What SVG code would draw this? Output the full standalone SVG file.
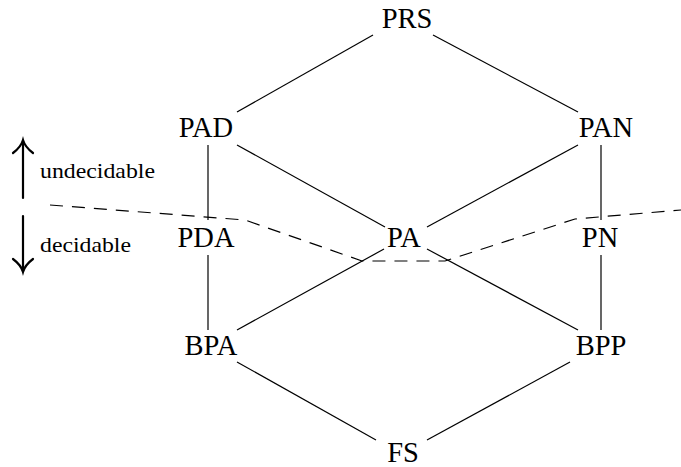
<svg xmlns="http://www.w3.org/2000/svg" width="681" height="467" viewBox="0 0 681 467">
<style>
.e{stroke:#000;stroke-width:1.2;fill:none}
.d{stroke:#000;stroke-width:1.2;fill:none;stroke-dasharray:13,9}
.a{stroke:#000;stroke-width:2.2;fill:none;stroke-linecap:round}
</style>
<rect width="681" height="467" fill="#fff"/>
<g id="connectors">
<line class="e" x1="237" y1="112" x2="373" y2="35"/>
<line class="e" x1="433" y1="35" x2="578" y2="112"/>
<line class="e" x1="208" y1="145" x2="208" y2="220"/>
<line class="e" x1="237" y1="145" x2="385" y2="227"/>
<line class="e" x1="578" y1="145" x2="427" y2="227"/>
<line class="e" x1="601" y1="145" x2="601" y2="220"/>
<line class="e" x1="208" y1="255" x2="208" y2="330"/>
<line class="e" x1="384" y1="249" x2="237" y2="330"/>
<line class="e" x1="427" y1="249" x2="578" y2="330"/>
<line class="e" x1="601" y1="255" x2="601" y2="330"/>
<line class="e" x1="237" y1="362" x2="376" y2="440"/>
<line class="e" x1="570" y1="362" x2="427" y2="440"/>
</g>
<g id="boundary">
<path class="d" d="M50,205 L245,220 L362,261 L445,261 L575,219 L681,210"/>
</g>
<g id="arrow-up">
<line class="a" x1="23" y1="198" x2="23" y2="141"/>
<path class="a" d="M13,153 Q21,147 23,140 Q25,147 33,153"/>
</g>
<g id="arrow-down">
<line class="a" x1="23" y1="216" x2="23" y2="271"/>
<path class="a" d="M13,259 Q21,265 23,272 Q25,265 33,259"/>
</g>
<text x="40" y="178" font-family="Liberation Serif, serif" font-size="21" textLength="115" lengthAdjust="spacingAndGlyphs">undecidable</text>
<text x="40" y="252" font-family="Liberation Serif, serif" font-size="21" textLength="91" lengthAdjust="spacingAndGlyphs">decidable</text>
<g id="PRS"><text x="407" y="28" font-family="Liberation Serif, serif" font-size="28.5" text-anchor="middle">PRS</text></g>
<g id="PAD"><text x="206" y="137" font-family="Liberation Serif, serif" font-size="28.5" text-anchor="middle">PAD</text></g>
<g id="PAN"><text x="606" y="137" font-family="Liberation Serif, serif" font-size="28.5" text-anchor="middle">PAN</text></g>
<g id="PDA"><text x="206" y="247" font-family="Liberation Serif, serif" font-size="28.5" text-anchor="middle">PDA</text></g>
<g id="PA"><text x="404" y="247" font-family="Liberation Serif, serif" font-size="28.5" text-anchor="middle">PA</text></g>
<g id="PN"><text x="600" y="247" font-family="Liberation Serif, serif" font-size="28.5" text-anchor="middle">PN</text></g>
<g id="BPA"><text x="211" y="355" font-family="Liberation Serif, serif" font-size="28.5" text-anchor="middle">BPA</text></g>
<g id="BPP"><text x="601" y="355" font-family="Liberation Serif, serif" font-size="28.5" text-anchor="middle">BPP</text></g>
<g id="FS"><text x="403" y="462" font-family="Liberation Serif, serif" font-size="28.5" text-anchor="middle">FS</text></g>
</svg>
